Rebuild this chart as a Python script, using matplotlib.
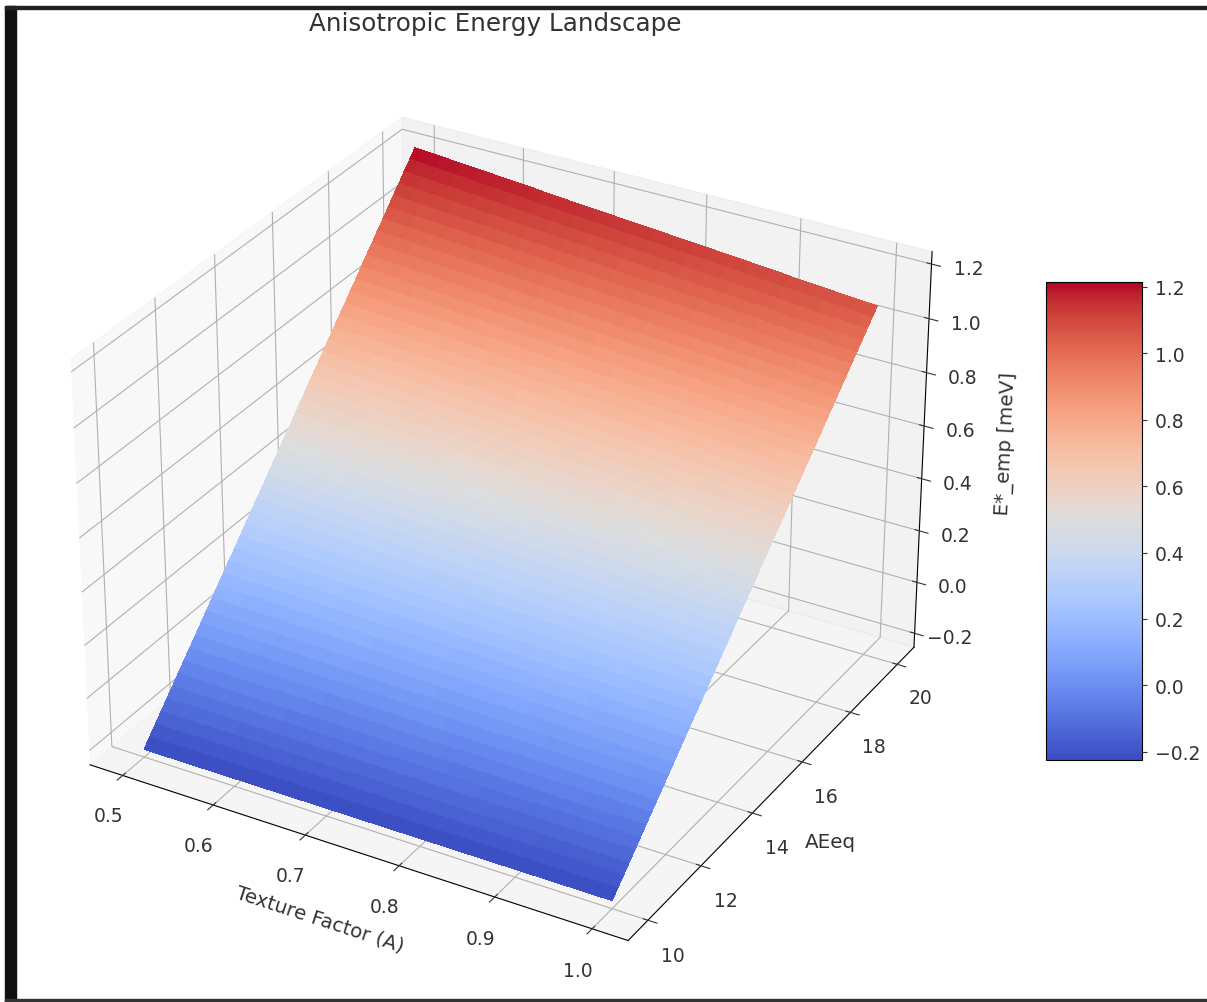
import numpy as np
import matplotlib
matplotlib.use('Agg')
import matplotlib.pyplot as plt
from matplotlib.patches import Rectangle

# values
texture = [0.500, 0.510, 0.520, 0.531, 0.541, 0.551, 0.561, 0.571, 0.582, 0.592,
           0.602, 0.612, 0.622, 0.633, 0.643, 0.653, 0.663, 0.673, 0.684, 0.694,
           0.704, 0.714, 0.724, 0.735, 0.745, 0.755, 0.765, 0.776, 0.786, 0.796,
           0.806, 0.816, 0.827, 0.837, 0.847, 0.857, 0.867, 0.878, 0.888, 0.898,
           0.908, 0.918, 0.929, 0.939, 0.949, 0.959, 0.969, 0.980, 0.990, 1.000]
aeeq = [10.00, 10.20, 10.41, 10.61, 10.82, 11.02, 11.22, 11.43, 11.63, 11.84,
        12.04, 12.24, 12.45, 12.65, 12.86, 13.06, 13.27, 13.47, 13.67, 13.88,
        14.08, 14.29, 14.49, 14.69, 14.90, 15.10, 15.31, 15.51, 15.71, 15.92,
        16.12, 16.33, 16.53, 16.73, 16.94, 17.14, 17.35, 17.55, 17.76, 17.96,
        18.16, 18.37, 18.57, 18.78, 18.98, 19.18, 19.39, 19.59, 19.80, 20.00]
# energy above the floor along AEeq, at A = 0.5
energy_rise = [0.000, 0.029, 0.059, 0.088, 0.118, 0.147, 0.176, 0.206, 0.235, 0.265,
               0.294, 0.323, 0.353, 0.382, 0.412, 0.441, 0.470, 0.500, 0.529, 0.559,
               0.588, 0.617, 0.647, 0.676, 0.706, 0.735, 0.764, 0.794, 0.823, 0.853,
               0.882, 0.911, 0.941, 0.970, 1.000, 1.029, 1.058, 1.088, 1.117, 1.147,
               1.176, 1.205, 1.235, 1.264, 1.294, 1.323, 1.352, 1.382, 1.411, 1.440]
# how much of that rise is left across the texture factor
texture_factor = [1.000, 0.998, 0.996, 0.994, 0.992, 0.990, 0.988, 0.986, 0.984, 0.982,
                  0.980, 0.978, 0.976, 0.974, 0.971, 0.969, 0.967, 0.965, 0.963, 0.961,
                  0.959, 0.957, 0.955, 0.953, 0.951, 0.949, 0.947, 0.945, 0.943, 0.941,
                  0.939, 0.937, 0.935, 0.933, 0.931, 0.929, 0.927, 0.925, 0.923, 0.921,
                  0.918, 0.916, 0.914, 0.912, 0.910, 0.908, 0.906, 0.904, 0.902, 0.900]
energy_floor = -0.225

x_ticks = [0.5, 0.6, 0.7, 0.8, 0.9, 1.0]
y_ticks = [10, 12, 14, 16, 18, 20]
z_ticks = [-0.2, 0.0, 0.2, 0.4, 0.6, 0.8, 1.0, 1.2]

X, Y = np.meshgrid(texture, aeeq)
Z = energy_floor + np.outer(energy_rise, texture_factor)

fig = plt.figure(figsize=(12.07, 10.03), dpi=100)
ax = fig.add_axes([0.001, 0.001, 0.821, 0.955], projection='3d')
surf = ax.plot_surface(X, Y, Z, cmap='coolwarm', rstride=1, cstride=1, linewidth=0,
                       antialiased=False, vmin=-0.225, vmax=1.215)
ax.set_xticks(x_ticks)
ax.set_yticks(y_ticks)
ax.set_zticks(z_ticks)
ax.tick_params(labelsize=13.5, colors='#333333')
ax.tick_params(axis='x', pad=8)
ax.tick_params(axis='y', pad=8)
ax.tick_params(axis='z', pad=8)
ax.set_xlabel('Texture Factor (A)', fontsize=14.3, labelpad=14, color='#333333')
ax.set_ylabel('AEeq', fontsize=14.3, labelpad=14, color='#333333')
ax.set_zlabel('E*_emp [meV]', fontsize=14.3, labelpad=16, color='#333333')
fig.text(0.41, 0.976, 'Anisotropic Energy Landscape', fontsize=17.7, ha='center', va='center', color='#333333')

cax = fig.add_axes([1046 / 1207, 1 - 761 / 1003, 96 / 1207, 478 / 1003])
cbar = fig.colorbar(surf, cax=cax)
cbar.set_ticks(z_ticks)
cbar.ax.tick_params(labelsize=13.5, colors='#333333', pad=6)

# frame around the screenshot
fig.patches.append(Rectangle((5 / 1207, 0), 11 / 1207, 1 - 7 / 1003, transform=fig.transFigure, color='#111111'))
fig.patches.append(Rectangle((5 / 1207, 1 - 10 / 1003), 1 - 5 / 1207, 3 / 1003, transform=fig.transFigure, color='#222222'))
fig.patches.append(Rectangle((5 / 1207, 0), 1 - 5 / 1207, 3 / 1003, transform=fig.transFigure, color='#333333'))

fig.savefig('out.png', dpi=100)
